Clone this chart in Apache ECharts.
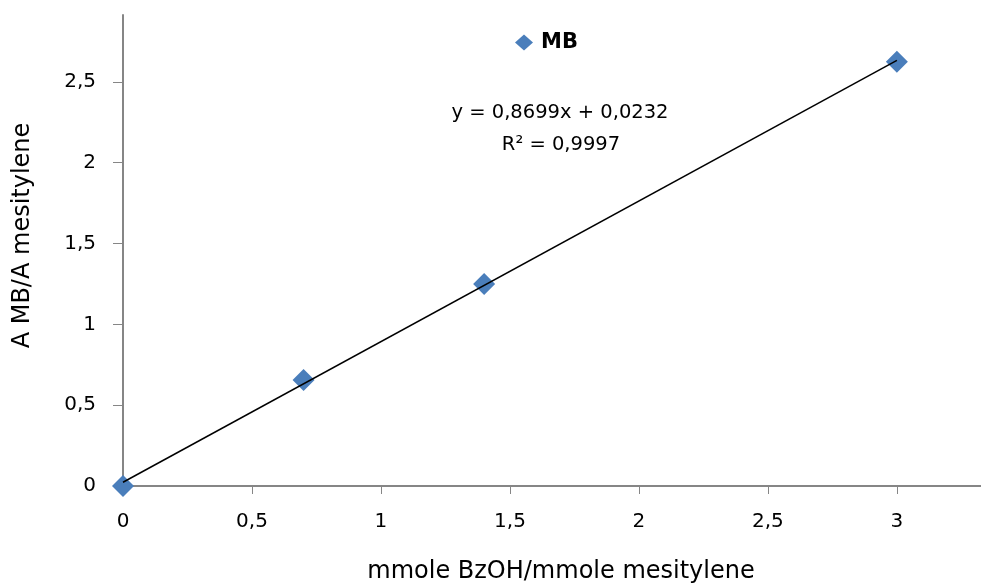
<!DOCTYPE html>
<html><head><meta charset="utf-8">
<script src="https://cdn.jsdelivr.net/npm/echarts@6/dist/echarts.min.js"></script>
<style>html,body{margin:0;padding:0;background:#fff}#c{width:981px;height:586px}</style>
</head><body><div id="c"></div>
<script>
const xValues = [0, 0.7, 1.4, 3.0];
const yValues = [0, 0.656, 1.25, 2.624];
const trendX = [0, 3.0];
const trendY = [0.0232, 2.6329];
const tickValues = [0, 0.5, 1, 1.5, 2, 2.5, 3];
const yTickValues = [0, 0.5, 1, 1.5, 2, 2.5];
const seriesName = 'MB';
const eqText = 'y = 0,8699x + 0,0232';
const r2Text = 'R² = 0,9997';
const xTitle = 'mmole BzOH/mmole mesitylene';
const yTitle = 'A MB/A mesitylene';

const FONT = 'DejaVu Sans';
const fmt = v => String(v).replace('.', ',');
const chart = echarts.init(document.getElementById('c'));
chart.setOption({
  animation: false,
  backgroundColor: '#fff',
  grid: { left: 123, top: 15, right: 0, bottom: 100, containLabel: false, outerBoundsMode: 'none' },
  legend: {
    data: [seriesName], left: 510, top: 27, itemWidth: 18, itemHeight: 16, itemGap: 4,
    itemStyle: { opacity: 1 },
    textStyle: { fontFamily: FONT, fontSize: 21, fontWeight: 'bold', color: '#000', padding: [0, 0, 0, 3] }
  },
  graphic: [
    { type: 'text', x: 560, y: 113, style: { text: eqText, textAlign: 'center', textVerticalAlign: 'middle', font: '19.5px "DejaVu Sans"', fill: '#000' } },
    { type: 'text', x: 561, y: 145, style: { text: r2Text, textAlign: 'center', textVerticalAlign: 'middle', font: '19.5px "DejaVu Sans"', fill: '#000' } }
  ],
  xAxis: {
    type: 'value', min: 0, max: 3.326,
    name: xTitle, nameLocation: 'middle', nameGap: 74,
    nameTextStyle: { fontFamily: FONT, fontSize: 24, color: '#000', padding: [0, 0, 0, 18] },
    axisLine: { show: true, lineStyle: { color: '#868686', width: 2 } },
    axisTick: { show: true, length: 8, inside: false, customValues: tickValues, lineStyle: { color: '#868686', width: 1 } },
    axisLabel: { customValues: tickValues, formatter: fmt, margin: 26, fontFamily: FONT, fontSize: 20, color: '#000' },
    splitLine: { show: false }
  },
  yAxis: {
    type: 'value', min: 0, max: 2.914,
    name: yTitle, nameLocation: 'middle', nameGap: 88, nameRotate: 90,
    nameTextStyle: { fontFamily: FONT, fontSize: 24, color: '#000', padding: [0, 0, 0, 30] },
    axisLine: { show: true, lineStyle: { color: '#868686', width: 2 } },
    axisTick: { show: true, length: 10, inside: false, customValues: yTickValues, lineStyle: { color: '#868686', width: 1 } },
    axisLabel: { customValues: yTickValues, formatter: fmt, margin: 27, fontFamily: FONT, fontSize: 20, color: '#000' },
    splitLine: { show: false }
  },
  series: [
    {
      name: 'trend', type: 'line', data: trendX.map((x, i) => [x, trendY[i]]),
      symbol: 'none', lineStyle: { color: '#000', width: 1.5 }, z: 3, silent: true
    },
    {
      name: seriesName, type: 'scatter', data: xValues.map((x, i) => [x, yValues[i]]),
      symbol: 'diamond', symbolSize: 22, itemStyle: { color: '#4a7ebb', opacity: 1 }, z: 2
    }
  ]
});
</script></body></html>
